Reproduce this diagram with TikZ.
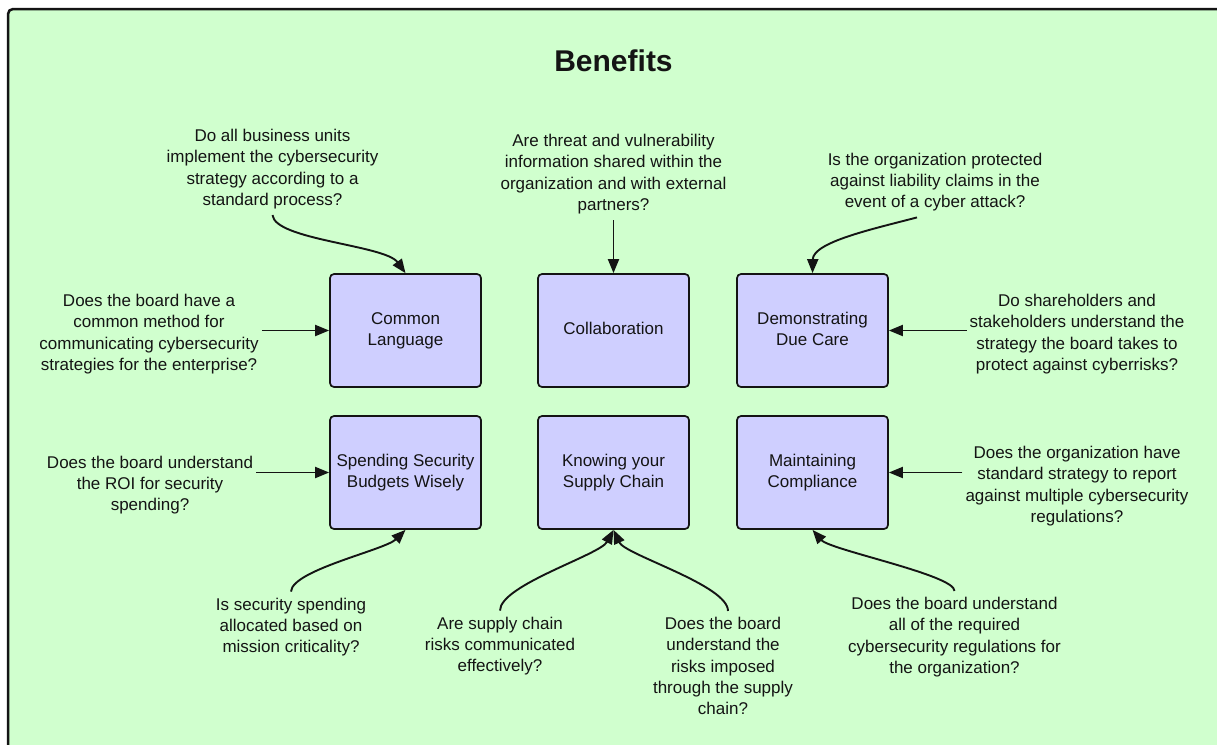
\documentclass[tikz,border=0pt]{standalone}
\usepackage{fontspec}
\setmainfont{Liberation Sans}
\usetikzlibrary{arrows.meta}
\definecolor{bggreen}{RGB}{208,255,206}
\definecolor{boxblue}{RGB}{207,207,255}
\definecolor{ink}{RGB}{20,20,20}
\begin{document}
\begin{tikzpicture}[x=1pt,y=-1pt,
  benefit/.style={draw=ink, line width=1.7pt, fill=boxblue, rounded corners=4pt,
    minimum width=151pt, minimum height=113pt, align=center,
    font=\fontsize{17}{21}\selectfont, inner sep=0pt, text=ink},
  question/.style={align=center, font=\fontsize{17}{21.3}\selectfont, inner sep=3pt, text=ink},
  link/.style={draw=ink, line width=1.9pt, -{Triangle[length=14pt,width=11pt]}}]
\useasboundingbox (0,0) rectangle (1217,744);
\fill[white] (0,0) rectangle (1217,744);
\begin{scope}
  \clip (0,0) rectangle (1217,744);
  \draw[draw=ink, line width=2.5pt, fill=bggreen, rounded corners=5pt] (8,9) rectangle (1240,770);
\end{scope}

\node[font=\fontsize{30}{34}\selectfont\bfseries, text=ink] (title) at (613.5,61) {Benefits};

% boxes
\node[benefit] (cl) at (405.5,330.5) {\strut Common\\Language\strut};
\node[benefit] (co) at (613.5,330.5) {\strut Collaboration\strut};
\node[benefit] (dm) at (812.5,330.5) {\strut Demonstrating\\Due Care\strut};
\node[benefit] (sp) at (405.5,472.5) {\strut Spending Security\\Budgets Wisely\strut};
\node[benefit] (kn) at (613.5,472.5) {\strut Knowing your\\Supply Chain\strut};
\node[benefit] (mc) at (812.5,472.5) {\strut Maintaining\\Compliance\strut};

% questions
\node[question] (t1) at (272.5,169) {Do all business units\\implement the cybersecurity\\strategy according to a\\standard process?};
\node[question] (t2) at (149,334) {Does the board have a\\common method for\\communicating cybersecurity\\strategies for the enterprise?};
\node[question] (t3) at (613.5,174) {Are threat and vulnerability\\information shared within the\\organization and with external\\partners?};
\node[question] (t4) at (935,182) {Is the organization protected\\against liability claims in the\\event of a cyber attack?};
\node[question] (t5) at (1077,334) {Do shareholders and\\stakeholders understand the\\strategy the board takes to\\protect against cyberrisks?};
\node[question] (t6) at (150,485) {Does the board understand\\the ROI for security\\spending?};
\node[question] (t7) at (1077,486) {Does the organization have\\standard strategy to report\\against multiple cybersecurity\\regulations?};
\node[question] (t8) at (291,627) {Is security spending\\allocated based on\\mission criticality?};
\node[question] (t9) at (500,646) {Are supply chain\\risks communicated\\effectively?};
\node[question] (t10) at (723,666) {Does the board\\understand the\\risks imposed\\through the supply\\chain?};
\node[question] (t11) at (954.5,637) {Does the board understand\\all of the required\\cybersecurity regulations for\\the organization?};

% connectors
\draw[link] ([yshift=-3pt]t1.south) .. controls (275,240) and (385,245) .. (cl.north);
\draw[link] (t2.east |- cl.west) -- (cl.west);
\draw[link] ([yshift=-3pt]t3.south) -- (co.north);
\draw[link] ([xshift=-18pt,yshift=-3pt]t4.south) .. controls (873,229) and (813,242) .. (dm.north);
\draw[link] (t5.west |- dm.east) -- (dm.east);
\draw[link] (t6.east |- sp.west) -- (sp.west);
\draw[link] (t7.west |- mc.east) -- (mc.east);
\draw[link] ([yshift=3pt]t8.north) .. controls (292,570) and (385,550) .. (sp.south);
\draw[link] ([yshift=3pt]t9.north) .. controls (500,585) and (600,555) .. (kn.south);
\draw[link] ([xshift=5pt,yshift=3pt]t10.north) .. controls (728,585) and (625,555) .. (kn.south);
\draw[link] ([yshift=3pt]t11.north) .. controls (955,575) and (830,550) .. (mc.south);
\end{tikzpicture}
\end{document}
